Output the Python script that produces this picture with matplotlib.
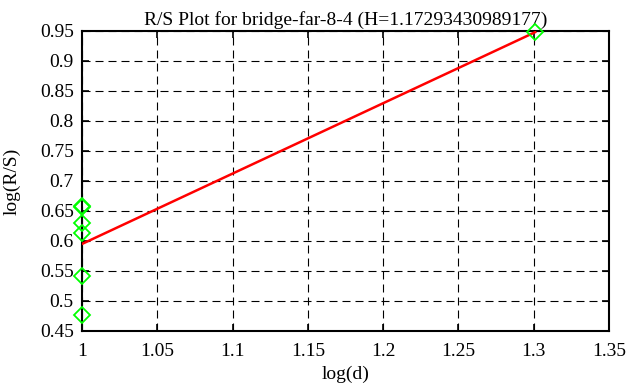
"""R/S plot (gnuplot look) for bridge-far-8-4."""
import numpy as np
import matplotlib
matplotlib.use('Agg')
import matplotlib.pyplot as plt

# log(d) / log(R/S) points
log_d = [1.0, 1.0, 1.0, 1.0, 1.0, 1.0, 1.30103]
log_rs = [0.658, 0.656, 0.630, 0.614, 0.541, 0.477, 0.948]

# fitted line
H = 1.17293430989177
intercept = -0.578

x_ticks = [1, 1.05, 1.1, 1.15, 1.2, 1.25, 1.3, 1.35]
x_labels = ['1', '1.05', '1.1', '1.15', '1.2', '1.25', '1.3', '1.35']
y_ticks = [0.45, 0.5, 0.55, 0.6, 0.65, 0.7, 0.75, 0.8, 0.85, 0.9, 0.95]
y_labels = ['0.45', '0.5', '0.55', '0.6', '0.65', '0.7', '0.75', '0.8', '0.85', '0.9', '0.95']

plt.rcParams['font.family'] = ['Liberation Serif', 'DejaVu Serif']
fs = 14

fig, ax = plt.subplots(figsize=(6.31, 3.87), dpi=100)
fig.subplots_adjust(left=0.130, right=0.965, top=0.920, bottom=0.145)

# fit line over the range of the points
xf = np.array([min(log_d), max(log_d)])
ax.plot(xf, H * xf + intercept, color='#ff0000', lw=1.8, zorder=3)

ax.plot(log_d, log_rs, linestyle='none', marker='D', markersize=8.5,
        markerfacecolor='none', markeredgecolor='#00ff00', markeredgewidth=1.3,
        clip_on=False, zorder=4)

ax.set_xlim(1.0, 1.35)
ax.set_ylim(0.45, 0.95)
ax.set_xticks(x_ticks)
ax.set_xticklabels(x_labels)
ax.set_yticks(y_ticks)
ax.set_yticklabels(y_labels)

ax.grid(True, color='black', linestyle=(0, (7.2, 4.5)), linewidth=0.8)
ax.tick_params(direction='in', length=5, width=1.2, top=True, right=True,
               labelsize=fs)
ax.tick_params(axis='x', pad=9)
ax.tick_params(axis='y', pad=6)
for s in ax.spines.values():
    s.set_linewidth(1.5)

ax.set_title('R/S Plot for bridge-far-8-4 (H=1.17293430989177)', fontsize=fs, pad=4)
ax.set_xlabel('log(d)', fontsize=fs, labelpad=4)
ax.set_ylabel('log(R/S)', fontsize=fs, labelpad=14)

fig.savefig('out.png', dpi=100)
